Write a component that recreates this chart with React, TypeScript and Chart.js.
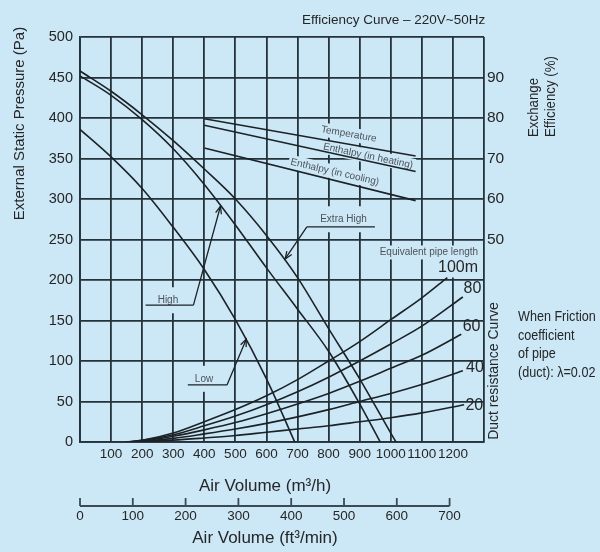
import React, { useEffect, useRef } from 'react';
import { Chart, registerables } from 'chart.js';

Chart.register(...registerables);

const FONT = "'Liberation Sans', Arial, Helvetica, sans-serif";
const BG = '#cce8f7';
const GRID = '#24323a';
const INK = '#1c2226';
const TEXT = '#262626';
const LABEL = '#4d5257';

// ---- axes ----
const airVolumeTicks = [100, 200, 300, 400, 500, 600, 700, 800, 900, 1000, 1100, 1200];
const efficiencyTicks = [50, 60, 70, 80, 90];
const cfmTicks = [0, 100, 200, 300, 400, 500, 600, 700];
const M3H_PER_CFM = 1.699;

// ---- fan curves (m3/h, Pa) ----
const lowVolume = [0, 100, 200, 300, 400, 500, 600, 691];
const lowPressure = [386, 352, 313, 265, 213, 151, 78, 0];

const highVolume = [0, 100, 200, 300, 400, 500, 600, 700, 800, 900, 966];
const highPressure = [452, 428, 398, 362, 318, 268, 215, 164, 112, 47, 0];

const extraHighVolume = [0, 100, 200, 300, 400, 500, 600, 700, 800, 900, 1000, 1017];
const extraHighPressure = [458, 433, 404, 372, 337, 300, 255, 203, 140, 78, 11, 0];

// ---- exchange efficiency (m3/h, %) ----
const effVolume = [400, 1080];
const temperatureEff = [79.8, 70.6];
const enthalpyHeatingEff = [78.2, 66.8];
const enthalpyCoolingEff = [72.6, 59.6];

// ---- duct resistance curves (m3/h, Pa) ----
const duct100Volume = [150, 200, 300, 400, 500, 600, 700, 800, 900, 1000, 1100, 1182];
const duct100Pressure = [0, 2, 11, 25, 40, 57, 77, 100, 124, 151, 178, 203];
const duct80Volume = [150, 200, 300, 400, 500, 600, 700, 800, 900, 1000, 1100, 1232];
const duct80Pressure = [0, 2, 9, 20, 32, 46, 62, 80, 100, 121, 143, 179];
const duct60Volume = [150, 200, 300, 400, 500, 600, 700, 800, 900, 1000, 1100, 1227];
const duct60Pressure = [0, 1, 7, 15, 24, 35, 47, 60, 75, 91, 107, 133];
const duct40Volume = [150, 200, 300, 400, 500, 600, 700, 800, 900, 1000, 1100, 1232];
const duct40Pressure = [0, 1, 4.5, 10, 16, 23, 31, 40, 50, 60, 71, 88];
const duct20Volume = [150, 200, 300, 400, 500, 600, 700, 800, 900, 1000, 1100, 1236];
const duct20Pressure = [0, 0.5, 2.3, 5, 8, 12, 16, 20, 25, 30, 36, 46];

// ---- annotations (anchored in data units) ----
const fanLabels = [
  { text: 'High', tx: 283, ty: 175, u1: 211, u2: 365, uy: 169, tipX: 452, tipY: 291, side: 'right' },
  { text: 'Low', tx: 399, ty: 78, u1: 347, u2: 473, uy: 70.5, tipX: 535, tipY: 127, side: 'right' },
  { text: 'Extra High', tx: 848, ty: 275, u1: 730, u2: 949, uy: 265.5, tipX: 660, tipY: 226, side: 'left' },
];
const effLabels = [
  { text: 'Temperature', x: 865, y: 380, angle: 10 },
  { text: 'Enthalpy (in heating)', x: 927, y: 353, angle: 12 },
  { text: 'Enthalpy (in cooling)', x: 820, y: 333.3, angle: 13 },
];
const ductLabels = [
  { text: 'Equivalent pipe length', x: 1281, y: 234, size: 10, align: 'right', color: LABEL },
  { text: '100m', x: 1281, y: 215.4, size: 16, align: 'right', color: TEXT },
  { text: '80', x: 1263, y: 189, size: 16, align: 'center', color: TEXT },
  { text: '60', x: 1260, y: 142, size: 16, align: 'center', color: TEXT },
  { text: '40', x: 1271, y: 92, size: 16, align: 'center', color: TEXT },
  { text: '20', x: 1269, y: 44.4, size: 16, align: 'center', color: TEXT },
];

const pts = (xs: number[], ys: number[]) => xs.map((x, i) => ({ x, y: ys[i] }));

const curve = (xs: number[], ys: number[], axis = 'y', smooth = true) => ({
  data: pts(xs, ys),
  borderColor: INK,
  borderWidth: 1.6,
  pointRadius: 0,
  fill: false,
  yAxisID: axis,
  cubicInterpolationMode: smooth ? 'monotone' : 'default',
  tension: 0,
});

function arrowHead(ctx: CanvasRenderingContext2D, fx: number, fy: number, tx: number, ty: number) {
  const a = Math.atan2(ty - fy, tx - fx);
  const len = 8;
  ctx.beginPath();
  ctx.moveTo(tx - len * Math.cos(a - 0.38), ty - len * Math.sin(a - 0.38));
  ctx.lineTo(tx, ty);
  ctx.lineTo(tx - len * Math.cos(a + 0.38), ty - len * Math.sin(a + 0.38));
  ctx.stroke();
}

function text(ctx: CanvasRenderingContext2D, s: string, x: number, y: number, size: number,
  align: CanvasTextAlign = 'left', color = TEXT, rot = 0, sx = 1) {
  ctx.save();
  ctx.translate(x, y);
  if (rot) ctx.rotate(rot);
  if (sx !== 1) ctx.scale(sx, 1);
  ctx.font = `${size}px ${FONT}`;
  ctx.fillStyle = color;
  ctx.textAlign = align;
  ctx.textBaseline = 'middle';
  ctx.fillText(s, 0, 0);
  ctx.restore();
}

const overlay = {
  id: 'overlay',
  beforeDatasetsDraw(chart: any) {
    const { ctx } = chart;
    const X = (v: number) => chart.scales.x.getPixelForValue(v);
    const Y = (v: number) => chart.scales.y.getPixelForValue(v);
    ctx.save();
    ctx.fillStyle = BG;
    ctx.font = `10px ${FONT}`;
    for (const l of fanLabels) {
      const w = ctx.measureText(l.text).width + 6;
      ctx.fillRect(X(l.tx) - w / 2, Y(l.ty) - 13, w, 26);
    }
    for (const l of effLabels) {
      ctx.save();
      ctx.translate(X(l.x), Y(l.y));
      ctx.rotate((l.angle * Math.PI) / 180);
      const w = ctx.measureText(l.text).width + 4;
      ctx.fillRect(-w / 2, -7, w, 14);
      ctx.restore();
    }
    for (const l of ductLabels.slice(0, 2)) {
      ctx.font = `${l.size}px ${FONT}`;
      const w = ctx.measureText(l.text).width + 4;
      const h = l.size + 4;
      ctx.fillRect(X(l.x) - w + 2, Y(l.y) - h / 2, w, h);
    }
    ctx.restore();
  },
  afterDatasetsDraw(chart: any) {
    const { ctx } = chart;
    const X = (v: number) => chart.scales.x.getPixelForValue(v);
    const Y = (v: number) => chart.scales.y.getPixelForValue(v);
    ctx.save();
    ctx.strokeStyle = INK;
    ctx.lineWidth = 1.3;
    for (const l of fanLabels) {
      text(ctx, l.text, X(l.tx), Y(l.ty), 10, 'center', LABEL);
      const sx = X(l.side === 'right' ? l.u2 : l.u1);
      const sy = Y(l.uy);
      ctx.beginPath();
      ctx.moveTo(X(l.u1), sy);
      ctx.lineTo(X(l.u2), sy);
      ctx.moveTo(sx, sy);
      ctx.lineTo(X(l.tipX), Y(l.tipY));
      ctx.stroke();
      arrowHead(ctx, sx, sy, X(l.tipX), Y(l.tipY));
    }
    for (const l of effLabels) {
      text(ctx, l.text, X(l.x), Y(l.y), 10, 'center', LABEL, (l.angle * Math.PI) / 180);
    }
    for (const l of ductLabels) {
      text(ctx, l.text, X(l.x), Y(l.y), l.size, l.align as CanvasTextAlign, l.color);
    }
    ctx.restore();
  },
  afterDraw(chart: any) {
    const { ctx, chartArea } = chart;
    const X = (v: number) => chart.scales.x.getPixelForValue(v);
    const b = chartArea.bottom;
    ctx.save();
    // titles
    text(ctx, 'Efficiency Curve \u2013 220V~50Hz', 302, 20, 13.5, 'left', TEXT);
    text(ctx, 'External Static Pressure (Pa)', 20, 123.5, 15, 'center', TEXT, -Math.PI / 2);
    text(ctx, 'Exchange', 534, 137, 14, 'left', TEXT, -Math.PI / 2, 0.95);
    text(ctx, 'Efficiency (%)', 551, 137, 14, 'left', TEXT, -Math.PI / 2, 0.95);
    text(ctx, 'Duct resistance Curve', 494, 371, 14, 'center', TEXT, -Math.PI / 2);
    const note = ['When Friction', 'coefficient', 'of pipe', '(duct): \u03bb=0.02'];
    note.forEach((s, i) => text(ctx, s, 518, 317.5 + i * 18.4, 14, 'left', TEXT, 0, 0.9));
    text(ctx, 'Air Volume (m\u00b3/h)', 265, b + 44, 17, 'center', TEXT);
    // secondary ft3/min axis
    const ly = b + 64;
    ctx.strokeStyle = '#3b4a53';
    ctx.lineWidth = 1.8;
    ctx.beginPath();
    const x0 = X(cfmTicks[0] * M3H_PER_CFM);
    const x1 = X(cfmTicks[cfmTicks.length - 1] * M3H_PER_CFM);
    ctx.moveTo(x0, ly);
    ctx.lineTo(x1, ly);
    for (const c of cfmTicks) {
      const px = X(c * M3H_PER_CFM);
      ctx.moveTo(px, ly);
      ctx.lineTo(px, ly - 8);
    }
    ctx.stroke();
    for (const c of cfmTicks) {
      text(ctx, String(c), X(c * M3H_PER_CFM), ly + 10, 13.5, 'center', TEXT);
    }
    text(ctx, 'Air Volume (ft\u00b3/min)', 265, b + 96, 17, 'center', TEXT);
    ctx.restore();
  },
};

export default function App() {
  const ref = useRef<HTMLCanvasElement>(null);
  useEffect(() => {
    const canvas = ref.current!;
    const chart = new Chart(canvas, {
      type: 'line',
      data: {
        datasets: [
          curve(lowVolume, lowPressure),
          curve(highVolume, highPressure),
          curve(extraHighVolume, extraHighPressure),
          curve(effVolume, temperatureEff, 'y2', false),
          curve(effVolume, enthalpyHeatingEff, 'y2', false),
          curve(effVolume, enthalpyCoolingEff, 'y2', false),
          curve(duct100Volume, duct100Pressure),
          curve(duct80Volume, duct80Pressure),
          curve(duct60Volume, duct60Pressure),
          curve(duct40Volume, duct40Pressure),
          curve(duct20Volume, duct20Pressure),
        ] as any,
      },
      options: {
        animation: false,
        responsive: false,
        events: [],
        layout: { padding: { top: 37, left: 0, right: 0, bottom: 0 } },
        plugins: { legend: { display: false }, tooltip: { enabled: false }, title: { display: false } },
        scales: {
          x: {
            type: 'linear',
            min: 0,
            max: 1300,
            afterFit: (s: any) => { s.height = 110; },
            ticks: {
              stepSize: 100,
              autoSkip: false,
              maxRotation: 0,
              padding: 4,
              color: TEXT,
              font: { size: 13.5, family: FONT },
              callback: (v: any) => (airVolumeTicks.includes(Number(v)) ? String(v) : ''),
            },
            grid: { color: GRID, lineWidth: 1.8, drawTicks: false },
            border: { color: GRID, width: 1.8 },
          },
          y: {
            type: 'linear',
            position: 'left',
            min: 0,
            max: 500,
            afterFit: (s: any) => { s.width = 80; },
            ticks: { stepSize: 50, padding: 7, color: TEXT, font: { size: 14.5, family: FONT } },
            grid: { color: GRID, lineWidth: 1.8, drawTicks: false },
            border: { color: GRID, width: 1.8 },
          },
          y2: {
            type: 'linear',
            position: 'right',
            min: 0,
            max: 100,
            afterFit: (s: any) => { s.width = 116; },
            ticks: {
              stepSize: 10,
              padding: 3,
              color: TEXT,
              font: { size: 15.5, family: FONT },
              callback: (v: any) => (efficiencyTicks.includes(Number(v)) ? String(v) : ''),
            },
            grid: { drawOnChartArea: false, drawTicks: false },
            border: { display: false },
          },
        },
      } as any,
      plugins: [overlay],
    });
    return () => chart.destroy();
  }, []);
  return (
    <div style={{ position: 'fixed', left: 0, top: 0, width: 600, height: 552, background: BG }}>
      <canvas ref={ref} width={600} height={552} style={{ display: 'block' }} />
    </div>
  );
}
